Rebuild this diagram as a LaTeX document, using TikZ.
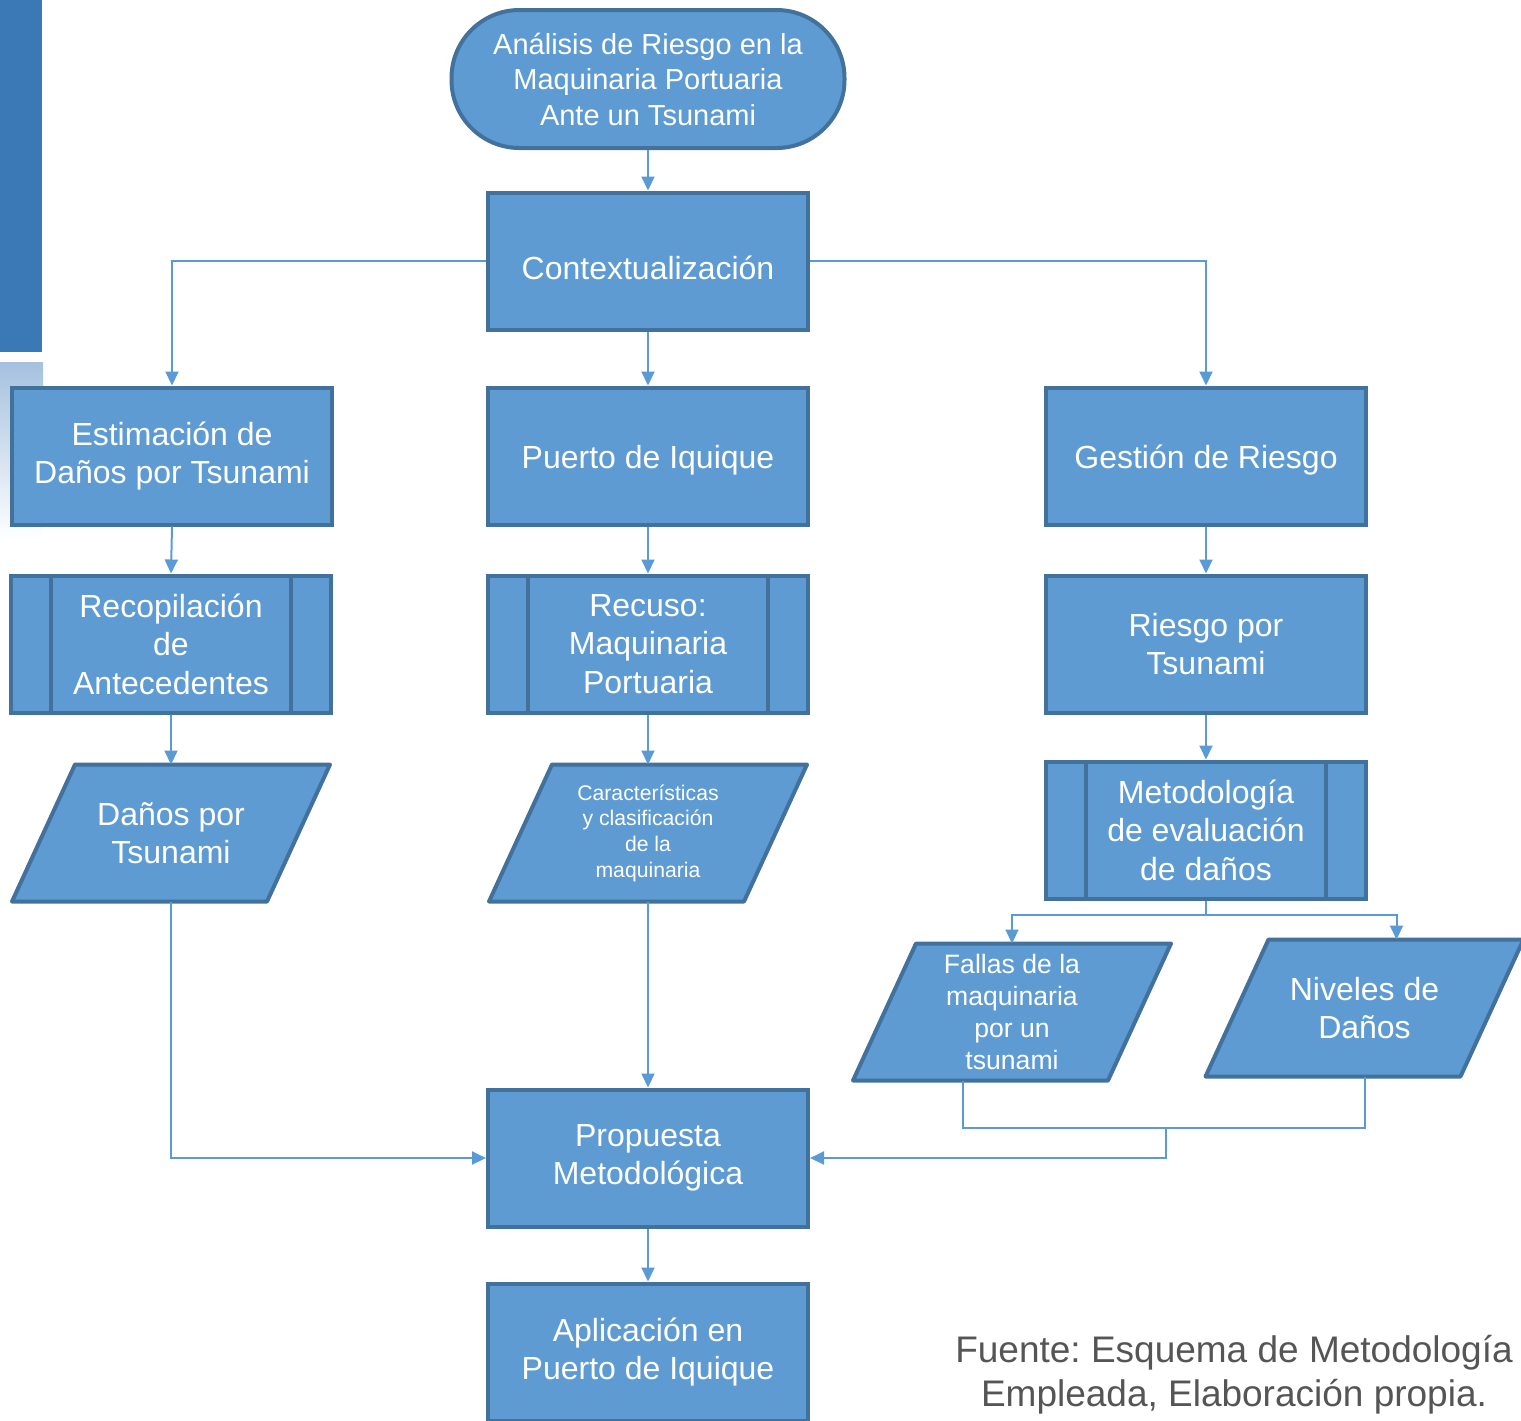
\documentclass[tikz,border=0pt]{standalone}
\usepackage{fontspec}
\setmainfont{Liberation Sans}
\usetikzlibrary{arrows.meta,backgrounds}
\definecolor{boxfill}{RGB}{94,155,211}
\definecolor{boxline}{RGB}{66,113,156}
\definecolor{linkblue}{RGB}{91,155,213}
\definecolor{sidebar}{RGB}{58,120,182}
\definecolor{sidefade}{RGB}{165,193,223}
\definecolor{notegray}{RGB}{85,85,85}
\frenchspacing
\begin{document}
\begin{tikzpicture}[x=0.5pt,y=-0.5pt,
  box/.style={rectangle, draw=boxline, fill=boxfill, line width=2pt, minimum width=160pt, minimum height=68.5pt, inner sep=2pt, text=white, align=center, font=\fontsize{16}{19.25}\selectfont, execute at begin node={\rule{0pt}{0.99em}}},
  term/.style={box, rounded corners=34pt, minimum width=196.5pt, minimum height=69pt, font=\fontsize{14.5}{17.75}\selectfont},
  proc/.style={box, path picture={\draw[boxline, line width=2pt] ([xshift=20pt]path picture bounding box.north west) -- ([xshift=20pt]path picture bounding box.south west) ([xshift=-20pt]path picture bounding box.north east) -- ([xshift=-20pt]path picture bounding box.south east);}},
  data/.style={rectangle, minimum width=159pt, minimum height=68.5pt, inner sep=1pt, outer sep=0pt, text=white, align=center, font=\fontsize{16}{19}\selectfont,
    append after command={\pgfextra{\begin{pgfonlayer}{background}
      \filldraw[fill=boxfill, draw=boxline, line width=2pt, line join=round] ([xshift=31.5pt]\tikzlastnode.north west) -- (\tikzlastnode.north east) -- ([xshift=-31.5pt]\tikzlastnode.south east) -- (\tikzlastnode.south west) -- cycle;
      \end{pgfonlayer}}}},
  flow/.style={draw=linkblue, line width=1pt, -{Triangle[length=7pt,width=6.5pt]}},
  wire/.style={draw=linkblue, line width=1pt}]
\useasboundingbox (0,0) rectangle (1521,1420);
% side bar
\fill[sidebar] (0,0) rectangle (42,352);
\shade[top color=sidefade, bottom color=white] (0,362) rectangle (43,540);
% boxes
\node[term] (analisis) at (648,79) {Análisis de Riesgo en la\\Maquinaria Portuaria\\Ante un Tsunami};
\node[box, text height=18.5pt] (contexto) at (648,261) {Contextualización};
\node[box] (estimacion) at (172,456) {Estimación de\\Daños por Tsunami};
\node[box] (puerto) at (648,456) {Puerto de Iquique};
\node[box] (gestion) at (1206,456) {Gestión de Riesgo};
\node[proc] (recopilacion) at (171,644) {Recopilación\\de\\Antecedentes};
\node[proc] (recurso) at (648,644) {Recuso:\\Maquinaria\\Portuaria};
\node[box] (riesgo) at (1206,644) {Riesgo por\\Tsunami};
\node[data] (danos) at (171,833) {Daños por\\Tsunami};
\node[data, font=\fontsize{10.6}{12.8}\selectfont] (caract) at (648,833) {Características\\y clasificación\\de la\\maquinaria};
\node[proc] (metodo) at (1206,830) {Metodología\\de evaluación\\de daños};
\node[data, font=\fontsize{13.3}{16}\selectfont] (fallas) at (1012,1012) {Fallas de la\\maquinaria\\por un\\tsunami};
\node[data] (niveles) at (1364.5,1008) {Niveles de\\Daños};
\node[box] (propuesta) at (648,1158) {Propuesta\\Metodológica};
\node[box] (aplicacion) at (648,1352) {Aplicación en\\Puerto de Iquique};
\node[text=notegray, align=center, font=\fontsize{18.5}{22}\selectfont] (fuente) at (1234,1375) {Fuente: Esquema de Metodología\\Empleada, Elaboración propia.};
% connectors
\draw[flow] (analisis) -- (contexto);
\draw[flow] (contexto) -- (puerto);
\draw[flow] (contexto.west) -| (estimacion.north);
\draw[flow] (contexto.east) -| (gestion.north);
\draw[flow] (estimacion.south) -- (recopilacion.north);
\draw[flow] (recopilacion) -- (danos);
\draw[flow] (puerto) -- (recurso);
\draw[flow] (recurso) -- (caract);
\draw[flow] (gestion) -- (riesgo);
\draw[flow] (riesgo) -- (metodo);
\coordinate (split) at (1206,915);
\draw[wire] (metodo.south) -- (split);
\draw[flow] (split) -| (fallas.north);
\draw[flow] (split) -| ([xshift=16pt]niveles.north);
\draw[flow] (danos.south) |- (propuesta.west);
\draw[flow] (caract) -- (propuesta);
\coordinate (junta) at (1166,1128);
\draw[wire] ([xshift=-24.5pt]fallas.south) |- (junta) -| (niveles.south);
\draw[flow] (junta) |- (propuesta.east);
\draw[flow] (propuesta) -- (aplicacion);
\end{tikzpicture}
\end{document}
